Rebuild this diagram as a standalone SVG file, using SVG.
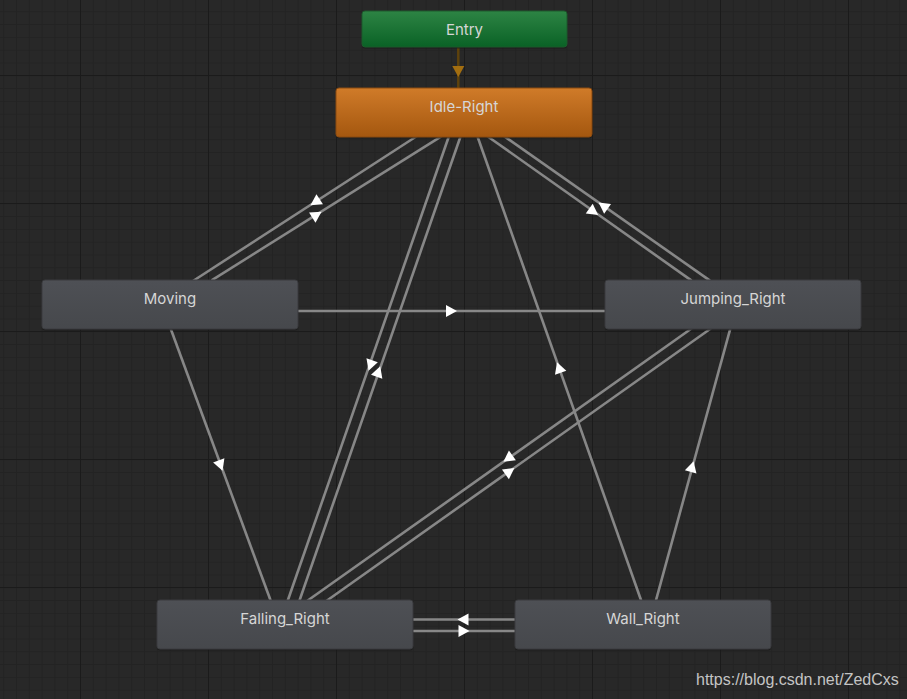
<svg xmlns="http://www.w3.org/2000/svg" xmlns:xlink="http://www.w3.org/1999/xlink" width="907" height="699" viewBox="0 0 907 699">
<style>
.lbl{font-family:Inter,"Noto Sans","DejaVu Sans",sans-serif;font-size:15px;text-anchor:middle;fill:#d6d6d6}
.edge{stroke:#878787;stroke-width:2.6;fill:none}
.shadow{fill:#1a1a1a;opacity:0.7}
.gray{fill:url(#gGray);stroke:#3a3b3e;stroke-width:1}
.wm{font-family:"Liberation Sans",Arial,sans-serif;font-size:16px;fill:#c4c4c4}
</style>
<defs>
<pattern id="minor" x="3.2" y="-1.5" width="12.8" height="12.8" patternUnits="userSpaceOnUse">
<rect width="12.8" height="12.8" fill="#282828"/>
<rect width="1" height="12.8" fill="#232323"/>
<rect width="12.8" height="1" fill="#232323"/>
</pattern>
<pattern id="major" x="80" y="75" width="128" height="128" patternUnits="userSpaceOnUse">
<rect width="1" height="128" fill="#1b1b1b"/>
<rect width="128" height="1" fill="#1b1b1b"/>
</pattern>
<linearGradient id="gGray" x1="0" y1="0" x2="0" y2="1">
<stop offset="0" stop-color="#4e5055"/>
<stop offset="1" stop-color="#46484c"/>
</linearGradient>
<linearGradient id="gOrange" x1="0" y1="0" x2="0" y2="1">
<stop offset="0" stop-color="#d07b29"/>
<stop offset="1" stop-color="#a4570f"/>
</linearGradient>
<linearGradient id="gGreen" x1="0" y1="0" x2="0" y2="1">
<stop offset="0" stop-color="#2d8444"/>
<stop offset="1" stop-color="#0a6226"/>
</linearGradient>
<polygon id="arr" points="6,0 -5,-6 -5,6" fill="#ffffff"/>
<polygon id="arrE" points="6,0 -5,-6 -5,6" fill="#a36e10"/>
</defs>
<rect width="907" height="699" fill="url(#minor)"/>
<rect width="907" height="699" fill="url(#major)"/>

<g id="connectors">
<line x1="458.3" y1="46" x2="458.3" y2="89" stroke="#5e420c" stroke-width="2.5"/>
<use xlink:href="#arrE" transform="translate(458.3,71) rotate(90)"/>

<line class="edge" x1="417" y1="136" x2="193" y2="281"/>
<line class="edge" x1="441.7" y1="136.2" x2="211.6" y2="280.4"/>
<use xlink:href="#arr" transform="translate(315.5,202) rotate(147.1)"/>
<use xlink:href="#arr" transform="translate(316.5,215) rotate(-32.1)"/>

<line class="edge" x1="449.6" y1="134.2" x2="287" y2="602.8"/>
<line class="edge" x1="461.3" y1="134.2" x2="298.7" y2="602.8"/>
<use xlink:href="#arr" transform="translate(370.5,365) rotate(109.1)"/>
<use xlink:href="#arr" transform="translate(378.3,372) rotate(-70.9)"/>

<line class="edge" x1="476.7" y1="134.2" x2="642.3" y2="603.8"/>
<use xlink:href="#arr" transform="translate(559,368) rotate(-109.4)"/>

<line class="edge" x1="486.7" y1="135.7" x2="691.6" y2="280.6"/>
<line class="edge" x1="503.4" y1="135.7" x2="710" y2="280.6"/>
<use xlink:href="#arr" transform="translate(593.3,211.5) rotate(35.3)"/>
<use xlink:href="#arr" transform="translate(603.5,206) rotate(-144.9)"/>

<line class="edge" x1="694" y1="326.7" x2="306.7" y2="601.3"/>
<line class="edge" x1="713.3" y1="326.7" x2="326" y2="601.3"/>
<use xlink:href="#arr" transform="translate(508.3,458.3) rotate(144.7)"/>
<use xlink:href="#arr" transform="translate(509.5,471.5) rotate(-35.3)"/>

<line class="edge" x1="169.8" y1="326.2" x2="271.8" y2="603.8"/>
<use xlink:href="#arr" transform="translate(220.5,465) rotate(69.8)"/>

<line class="edge" x1="655" y1="603.8" x2="731" y2="326.2"/>
<use xlink:href="#arr" transform="translate(692,467) rotate(-74.7)"/>

<line class="edge" x1="296" y1="311" x2="607" y2="311"/>
<use xlink:href="#arr" transform="translate(451,311) rotate(0)"/>

<line class="edge" x1="411" y1="619.5" x2="517" y2="619.5"/>
<line class="edge" x1="411" y1="631" x2="517" y2="631"/>
<use xlink:href="#arr" transform="translate(463.5,619.5) rotate(180)"/>
<use xlink:href="#arr" transform="translate(463.5,631) rotate(0)"/>
</g>

<g id="entry">
<rect class="shadow" x="362" y="12.5" width="205" height="36" rx="3"/>
<rect x="362" y="11" width="205" height="36" rx="3" fill="url(#gGreen)" stroke="#1c5a2c" stroke-width="1"/>
<text class="lbl" x="464.5" y="35">Entry</text>
</g>
<g id="idle-right">
<rect class="shadow" x="336" y="89.5" width="256" height="49" rx="3"/>
<rect x="336" y="88" width="256" height="49" rx="3" fill="url(#gOrange)" stroke="#8a4a10" stroke-width="1"/>
<text class="lbl" x="464" y="112">Idle-Right</text>
</g>
<g id="moving">
<rect class="shadow" x="42" y="281.5" width="256" height="49" rx="3"/>
<rect class="gray" x="42" y="280" width="256" height="49" rx="3"/>
<text class="lbl" x="170" y="304">Moving</text>
</g>
<g id="jumping-right">
<rect class="shadow" x="605" y="281.5" width="256" height="49" rx="3"/>
<rect class="gray" x="605" y="280" width="256" height="49" rx="3"/>
<text class="lbl" x="733" y="304">Jumping_Right</text>
</g>
<g id="falling-right">
<rect class="shadow" x="157" y="601.5" width="256" height="49" rx="3"/>
<rect class="gray" x="157" y="600" width="256" height="49" rx="3"/>
<text class="lbl" x="285" y="624">Falling_Right</text>
</g>
<g id="wall-right">
<rect class="shadow" x="515" y="601.5" width="256" height="49" rx="3"/>
<rect class="gray" x="515" y="600" width="256" height="49" rx="3"/>
<text class="lbl" x="643" y="624">Wall_Right</text>
</g>
<text class="wm" x="696" y="685">https://blog.csdn.net/ZedCxs</text>
</svg>
